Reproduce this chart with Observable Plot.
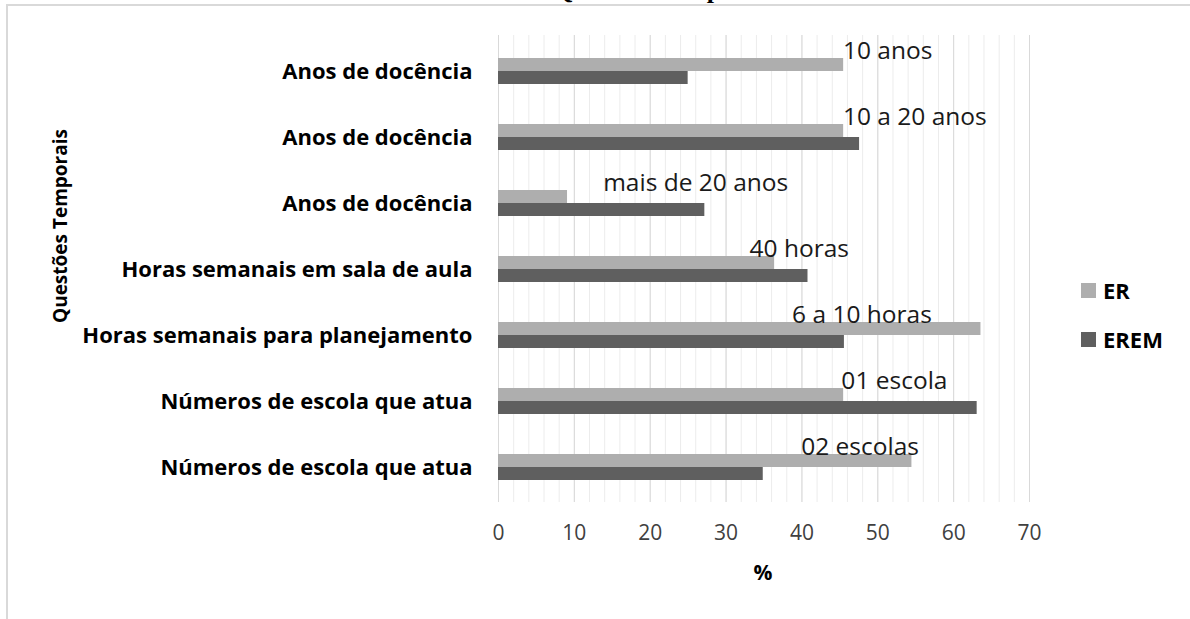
<!DOCTYPE html>
<html><head><meta charset="utf-8">
<script src="https://cdn.jsdelivr.net/npm/d3@7"></script>
<script src="https://cdn.jsdelivr.net/npm/@observablehq/plot@0.6"></script>
<style>
body{margin:0;background:#fff;}
#wrap{position:relative;width:1190px;height:619px;overflow:hidden;background:#fff;font-family:"Open Sans",sans-serif;}
#title{position:absolute;left:553px;top:-23px;font:bold 26px "Liberation Serif",serif;line-height:26px;white-space:nowrap;color:#000;}
#frame{position:absolute;left:6px;top:4px;width:1300px;height:800px;border:2px solid #d9d9d9;box-sizing:border-box;}
#chart{position:absolute;left:0;top:0;}
#ytitle{position:absolute;left:60px;top:226px;transform:translate(-50%,-50%) rotate(-90deg);font-weight:700;font-size:19px;white-space:nowrap;color:#000;}
#xtitle{position:absolute;left:763px;top:572px;transform:translate(-50%,-50%);font-weight:700;font-size:21px;color:#000;}
.lg{position:absolute;left:1081px;display:flex;align-items:center;font-weight:700;font-size:22px;color:#000;}
.lg span.sw{display:inline-block;width:15px;height:15px;margin-right:7px;}
</style>
</head>
<body>
<div id="wrap">
  <div id="title">Questões Temporais</div>
  <div id="frame"></div>
  <div id="chart"></div>
  <div id="ytitle">Questões Temporais</div>
  <div id="xtitle">%</div>
  <div id="legend"></div>
</div>
<script>
const categories = ["Anos de docência","Anos de docência","Anos de docência","Horas semanais em sala de aula","Horas semanais para planejamento","Números de escola que atua","Números de escola que atua"];
const options = ["10 anos","10 a 20 anos","mais de 20 anos","40 horas","6 a 10 horas","01 escola","02 escolas"];
const seriesNames = ["ER","EREM"];
const er = [45.5, 45.5, 9.1, 36.4, 63.6, 45.5, 54.5];
const erem = [25.0, 47.6, 27.2, 40.8, 45.6, 63.1, 34.9];
const labelAt = [45.4, 45.4, 13.8, 33.1, 38.7, 45.2, 39.9];
const xTicks = [0, 10, 20, 30, 40, 50, 60, 70];
const minorTicks = d3.range(0, 71, 2);
const colors = {ER: "#aeaeae", EREM: "#5f5f5f"};

const erData = options.map((o, i) => ({key: o, series: "ER", value: er[i]}));
const eremData = options.map((o, i) => ({key: o, series: "EREM", value: erem[i]}));
const labelData = options.map((o, i) => ({key: o, text: o, at: labelAt[i]}));

const chart = Plot.plot({
  width: 1190,
  height: 619,
  marginLeft: 498,
  marginRight: 161,
  marginTop: 35,
  marginBottom: 117,
  style: {fontFamily: "Open Sans, sans-serif", background: "transparent", overflow: "visible"},
  x: {domain: [0, 70], ticks: xTicks, label: null},
  y: {domain: options, paddingInner: 0.61, paddingOuter: 0.305, label: null},
  marks: [
    Plot.ruleX(minorTicks, {stroke: "#ececec", strokeWidth: 1}),
    Plot.ruleX(xTicks, {stroke: "#d9d9d9", strokeWidth: 1}),
    Plot.barX(erData, {x: "value", y: "key", fill: colors.ER, insetBottom: 13}),
    Plot.barX(eremData, {x: "value", y: "key", fill: colors.EREM, insetTop: 13}),
    Plot.text(labelData, {x: "at", y: "key", text: "text", textAnchor: "start", lineAnchor: "middle", dy: -20, fontSize: 24.5, fill: "#1a1a1a"}),
    Plot.axisX({ticks: xTicks, tickSize: 0, tickPadding: 23, fontSize: 21, fill: "#404040", label: null}),
    Plot.axisY({tickSize: 0, tickPadding: 26, fontSize: 22, fontWeight: 700, fill: "#000", label: null,
      tickFormat: d => categories[options.indexOf(d)]})
  ]
});
document.getElementById("chart").appendChild(chart);

const legend = document.getElementById("legend");
seriesNames.forEach((s, i) => {
  const div = document.createElement("div");
  div.className = "lg";
  div.style.top = (290 + i * 49 - 15) + "px";
  div.innerHTML = `<span class="sw" style="background:${colors[s]}"></span><span>${s}</span>`;
  legend.appendChild(div);
});
</script>
</body></html>
